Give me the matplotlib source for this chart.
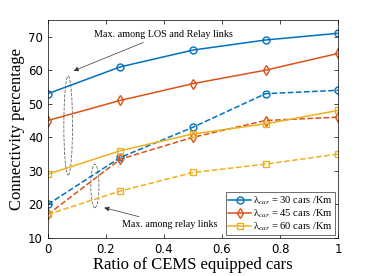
import numpy as np
import matplotlib.pyplot as plt
from matplotlib.patches import Ellipse

ratio = [0, 0.25, 0.5, 0.75, 1]
los30 = [53, 61, 66, 69, 71]
los45 = [45, 51, 56, 60, 65]
los60 = [29, 36, 41, 44, 48]
relay30 = [20, 34, 43, 53, 54]
relay45 = [17, 33.5, 40, 45, 46]
relay60 = [17, 24, 29.5, 32, 35]
labels = [r"$\mathregular{\lambda}_{car}$ = 30 cars /Km",
          r"$\mathregular{\lambda}_{car}$ = 45 cars /Km",
          r"$\mathregular{\lambda}_{car}$ = 60 cars /Km"]

colors = ["#0072BD", "#D95319", "#EDB120"]
markers = ["o", "d", "s"]

plt.rcParams["mathtext.fontset"] = "stix"

fig = plt.figure(figsize=(3.74, 2.76), dpi=100)
ax = fig.add_axes([0.128, 0.138, 0.776, 0.79])

for los, relay, c, m, lab in zip([los30, los45, los60], [relay30, relay45, relay60],
                                 colors, markers, labels):
    ax.plot(ratio, los, color=c, marker=m, mfc="none", ms=5, lw=1.1, label=lab)
    ax.plot(ratio, relay, color=c, marker=m, mfc="none", ms=5, lw=1.1, ls="--")

ax.set_xlim(0, 1)
ax.set_ylim(10, 75)
ax.set_xticks([0, 0.2, 0.4, 0.6, 0.8, 1])
ax.set_xticklabels(["0", "0.2", "0.4", "0.6", "0.8", "1"])
ax.set_yticks(range(10, 80, 10))
ax.tick_params(direction="in", top=True, right=True, labelsize=8.5, length=3, width=0.5)
for s in ax.spines.values():
    s.set_linewidth(0.5)

ax.set_xlabel("Ratio of CEMS equipped cars", family="Liberation Serif", fontsize=12, labelpad=1)
ax.set_ylabel("Connectivity percentage", family="Liberation Serif", fontsize=12, labelpad=2)

ax.add_patch(Ellipse((0.07, 43.5), 0.03, 29.5, fill=False, ls="--", ec="0.4", lw=0.6))
ax.add_patch(Ellipse((0.162, 25.5), 0.028, 13, fill=False, ls="--", ec="0.4", lw=0.6))

ax.annotate("Max. among LOS and Relay links", xy=(0.08, 59.5), xytext=(0.16, 70),
            family="Liberation Serif", fontsize=7.3,
            arrowprops=dict(arrowstyle="-|>", color="0.2", lw=0.5, mutation_scale=7))
ax.annotate("Max. among relay links", xy=(0.185, 19.2), xytext=(0.257, 13.2),
            family="Liberation Serif", fontsize=7.2,
            arrowprops=dict(arrowstyle="-|>", color="0.2", lw=0.5, mutation_scale=7))

leg = ax.legend(loc="lower right", prop={"family": "Liberation Serif", "size": 7.6},
                handlelength=2.2, borderpad=0.2, labelspacing=0.05, handletextpad=0.2,
                borderaxespad=0.25, fancybox=False, edgecolor="0.2", framealpha=1)
leg.get_frame().set_linewidth(0.5)

fig.savefig("out.png", dpi=100)
